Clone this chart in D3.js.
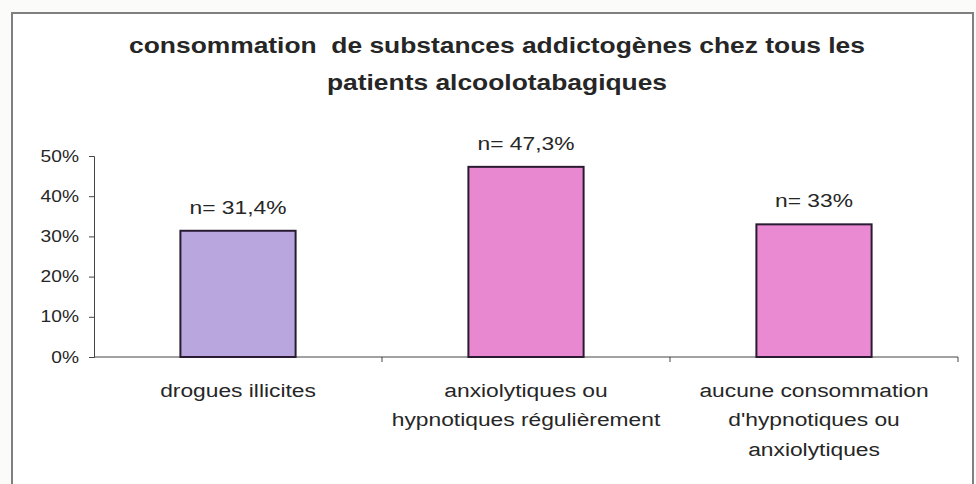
<!DOCTYPE html>
<html lang="fr">
<head>
<meta charset="UTF-8">
<title>consommation de substances addictogènes</title>
<style>
  body { margin: 0; background: #fbfbfa; }
  svg { display: block; font-family: "Liberation Sans", Arial, sans-serif; }
  text { white-space: pre; }
</style>
</head>
<body>
<svg width="976" height="484"></svg>
<script src="https://d3js.org/d3.v7.min.js"></script>
<script>
const categories = [
  ['drogues illicites'],
  ['anxiolytiques ou', 'hypnotiques régulièrement'],
  ['aucune consommation', "d'hypnotiques ou", 'anxiolytiques']
];
const values = [31.4, 47.3, 33];
const valueLabels = ['n= 31,4%', 'n= 47,3%', 'n= 33%'];
const barColors = ['#b9a6de', '#e888d0', '#e98ad2'];
const yTicks = [0, 10, 20, 30, 40, 50];
const titleLines = ['consommation  de substances addictogènes chez tous les', 'patients alcoolotabagiques'];

// the scanned chart is stretched sideways a little
const stretch = 1.2;
const ink = '#262626';

const svg = d3.select('svg');
const margin = {top: 156, right: 18, bottom: 127, left: 94};
const width = 976 - margin.left - margin.right;
const height = 484 - margin.top - margin.bottom;

// outer frame (bottom runs off the picture)
svg.append('path')
  .attr('d', 'M12,500 V13 H973 V500')
  .attr('fill', '#fff')
  .attr('stroke', '#808080')
  .attr('stroke-width', 2);

svg.selectAll('.title').data(titleLines).join('text')
  .attr('class', 'title')
  .attr('transform', (d, i) => `translate(497,${53 + i * 37}) scale(${stretch},1)`)
  .attr('text-anchor', 'middle')
  .attr('font-size', 22).attr('font-weight', 'bold').attr('fill', ink)
  .text(d => d);

const g = svg.append('g').attr('transform', `translate(${margin.left},${margin.top})`);

const x = d3.scaleBand().domain(d3.range(categories.length)).range([0, width])
  .paddingInner(0.6).paddingOuter(0.3);
const y = d3.scaleLinear().domain([0, 50]).range([height, 0]);

const yAxis = g.append('g')
  .call(d3.axisLeft(y).tickValues(yTicks).tickFormat(d => d + '%').tickSize(5));
yAxis.select('.domain').attr('stroke', '#444');
yAxis.selectAll('.tick line').attr('stroke', '#444');
yAxis.selectAll('.tick text')
  .attr('x', 0)
  .attr('transform', `translate(-15,0) scale(${stretch},1)`)
  .attr('font-size', 16).attr('fill', ink)
  .attr('font-family', '"Liberation Sans", Arial, sans-serif');

// x axis with category separators
const step = x.step();
const xAxis = g.append('g').attr('transform', `translate(0,${height})`);
xAxis.append('line').attr('x1', 0).attr('x2', width).attr('stroke', '#444');
xAxis.selectAll('.sep').data(d3.range(1, categories.length + 1)).join('line')
  .attr('class', 'sep')
  .attr('x1', d => d * step).attr('x2', d => d * step)
  .attr('y1', 0).attr('y2', 5)
  .attr('stroke', '#444');

g.selectAll('.bar').data(values).join('rect')
  .attr('class', 'bar')
  .attr('x', (d, i) => x(i))
  .attr('y', d => y(d))
  .attr('width', x.bandwidth())
  .attr('height', d => height - y(d))
  .attr('fill', (d, i) => barColors[i])
  .attr('stroke', '#2a1b33')
  .attr('stroke-width', 2);

g.selectAll('.vlabel').data(values).join('text')
  .attr('class', 'vlabel')
  .attr('transform', (d, i) => `translate(${x(i) + x.bandwidth() / 2},${y(d) - 17}) scale(${stretch},1)`)
  .attr('text-anchor', 'middle')
  .attr('font-size', 19).attr('fill', ink)
  .text((d, i) => valueLabels[i]);

const cat = g.selectAll('.cat').data(categories).join('text')
  .attr('class', 'cat')
  .attr('text-anchor', 'middle')
  .attr('font-size', 19).attr('fill', ink)
  .attr('transform', (d, i) => `translate(${x(i) + x.bandwidth() / 2},${height + 40}) scale(${stretch},1)`);
cat.selectAll('tspan').data(d => d).join('tspan')
  .attr('x', 0).attr('y', (d, i) => i * 29.5)
  .text(d => d);
</script>
</body>
</html>
